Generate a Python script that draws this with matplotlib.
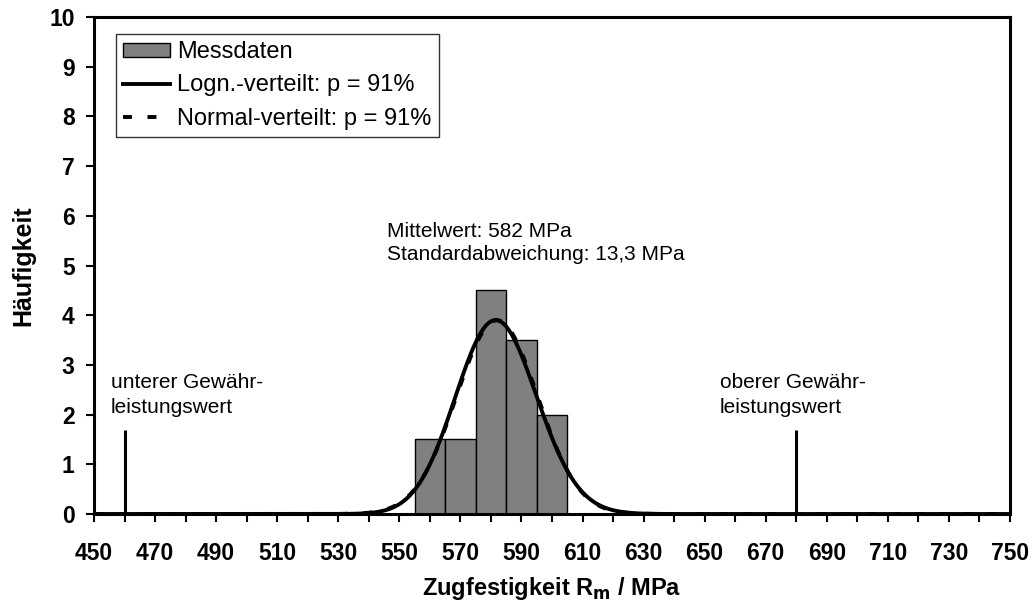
import numpy as np
import matplotlib.pyplot as plt

plt.rcParams["font.family"] = ["Liberation Sans", "DejaVu Sans"]

# Messdaten (Klassen à 10 MPa)
klassen_mitte = [560, 570, 580, 590, 600]
haeufigkeit = [1.5, 1.5, 4.5, 3.5, 2.0]
klassenbreite = 10

# Kennwerte
mittelwert = 582.0
std_abw = 13.3
gewaehr_unten = 460
gewaehr_oben = 680
gewaehr_hoehe = 1.7

# Verteilungskurven, skaliert auf Anzahl * Klassenbreite
x = np.linspace(450, 750, 1201)
n_ges = sum(haeufigkeit)
skal = n_ges * klassenbreite
normal = skal / (std_abw * np.sqrt(2 * np.pi)) * np.exp(-0.5 * ((x - mittelwert) / std_abw) ** 2)
s_ln = np.sqrt(np.log(1 + (std_abw / mittelwert) ** 2))
mu_ln = np.log(mittelwert) - s_ln ** 2 / 2
logn = skal / (x * s_ln * np.sqrt(2 * np.pi)) * np.exp(-0.5 * ((np.log(x) - mu_ln) / s_ln) ** 2)

fig = plt.figure(figsize=(10.33, 6.05), dpi=100)
ax = fig.add_axes([0.091, 0.1504, 0.8867, 0.8215])

balken = ax.bar(klassen_mitte, haeufigkeit, width=klassenbreite, color="#808080",
                edgecolor="black", linewidth=1, label="Messdaten", zorder=2)
l_logn, = ax.plot(x, logn, color="black", lw=2.8, label="Logn.-verteilt: p = 91%", zorder=3)
l_norm, = ax.plot(x, normal, color="black", lw=2.8, ls=(0, (2.3, 4)),
                  label="Normal-verteilt: p = 91%", zorder=4)

# Gewährleistungswerte
ax.vlines([gewaehr_unten, gewaehr_oben], 0, gewaehr_hoehe, color="black", lw=2.2, zorder=3)
ax.text(455.5, 2.84, "unterer Gewähr-\nleistungswert", fontsize=15, va="top", linespacing=1.4)
ax.text(655, 2.84, "oberer Gewähr-\nleistungswert", fontsize=15, va="top", linespacing=1.4)
ax.text(546, 5.88, f"Mittelwert: {mittelwert:.0f} MPa\nStandardabweichung: {str(std_abw).replace('.', ',')} MPa",
        fontsize=15, va="top", linespacing=1.3)

ax.set_xlim(450, 750)
ax.set_ylim(0, 10)
ax.set_xticks(np.arange(450, 751, 10))
ax.set_xticklabels([str(v) if (v - 450) % 20 == 0 else "" for v in range(450, 751, 10)])
ax.set_yticks(range(0, 11))
ax.tick_params(axis="both", direction="out", length=6, width=1.5, labelsize=16.5)
ax.tick_params(axis="x", pad=14)
ax.tick_params(axis="y", pad=8)
for lab in ax.get_xticklabels() + ax.get_yticklabels():
    lab.set_fontweight("bold")
for sp in ax.spines.values():
    sp.set_linewidth(2.2)

ax.set_xlabel("Zugfestigkeit R$_\\mathbf{m}$ / MPa", fontsize=17, fontweight="bold", labelpad=7)
ax.set_ylabel("Häufigkeit", fontsize=18, fontweight="bold", labelpad=10)

leg = ax.legend([balken, l_logn, l_norm], [balken.get_label(), l_logn.get_label(), l_norm.get_label()],
                loc="upper left", bbox_to_anchor=(0.024, 0.966), fontsize=17, frameon=True,
                fancybox=False, edgecolor="black", handlelength=2.0, handleheight=0.55,
                handletextpad=0.3, borderpad=0.3, labelspacing=0.48, borderaxespad=0)
leg.get_frame().set_linewidth(1)

fig.savefig("out.png", dpi=100)
